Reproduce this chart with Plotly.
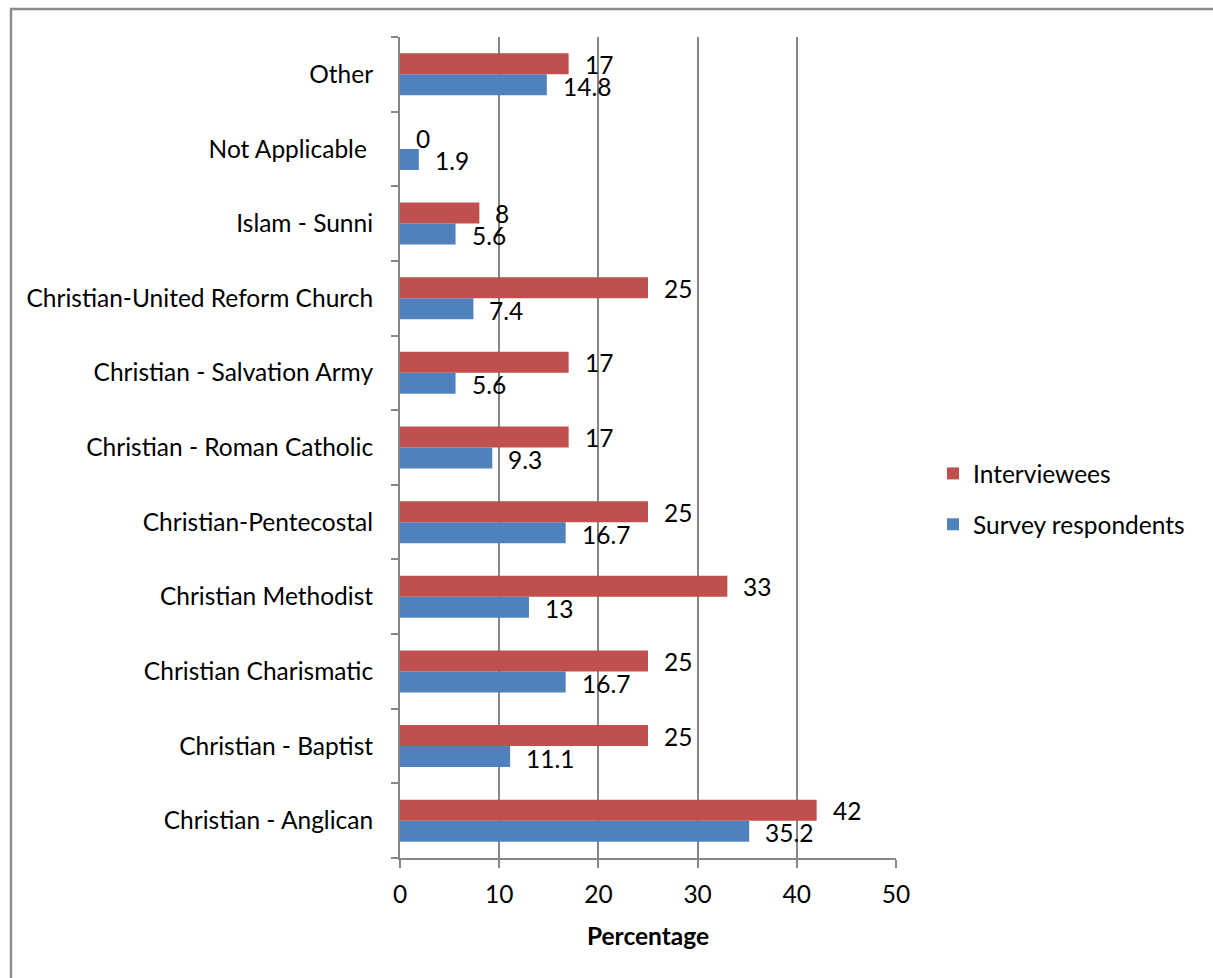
import plotly.graph_objects as go

categories = [
    "Christian - Anglican",
    "Christian - Baptist",
    "Christian Charismatic",
    "Christian Methodist",
    "Christian-Pentecostal",
    "Christian - Roman Catholic",
    "Christian - Salvation Army",
    "Christian-United Reform Church",
    "Islam - Sunni",
    "Not Applicable\u00a0",
    "Other",
]
survey_respondents = [35.2, 11.1, 16.7, 13, 16.7, 9.3, 5.6, 7.4, 5.6, 1.9, 14.8]
interviewees = [42, 25, 25, 33, 25, 17, 17, 25, 8, 0, 17]
x_ticks = [0, 10, 20, 30, 40, 50]

BLUE = "#4F81BD"
RED = "#C0504D"
GRAY = "#868686"
FONT = "Lato"
FS = 24.5

W, H = 1213, 978
L, R, T, B = 400, 317, 37, 120

fig = go.Figure()
fig.add_trace(go.Bar(
    y=categories, x=survey_respondents, orientation="h", name="Survey respondents",
    marker=dict(color=BLUE, line=dict(width=0)), legendgroup="s", legendrank=2,
))
fig.add_trace(go.Bar(
    y=categories, x=interviewees, orientation="h", name="Interviewees",
    marker=dict(color=RED, line=dict(width=0)), legendgroup="i", legendrank=1,
))

annotations = []
for cat, v in zip(categories, interviewees):
    annotations.append(dict(x=v, y=cat, xref="x", yref="y", text=f"{v:g}", showarrow=False,
                            xanchor="left", yanchor="middle", xshift=14, yshift=10,
                            font=dict(family=FONT, size=FS, color="black")))
for cat, v in zip(categories, survey_respondents):
    annotations.append(dict(x=v, y=cat, xref="x", yref="y", text=f"{v:g}", showarrow=False,
                            xanchor="left", yanchor="middle", xshift=14, yshift=-12,
                            font=dict(family=FONT, size=FS, color="black")))

pw = W - L - R
ph = H - T - B
def px_x(p):
    return (p - L) / pw
def px_y(p):
    return (H - B - p) / ph

shapes = [dict(type="rect", xref="paper", yref="paper",
               x0=px_x(11), x1=px_x(1230), y0=px_y(1000), y1=px_y(9),
               line=dict(color="#8C8C8C", width=2.5), fillcolor="rgba(0,0,0,0)", layer="below")]

fig.update_layout(
    width=W, height=H,
    margin=dict(l=L, r=R, t=T, b=B, pad=0),
    paper_bgcolor="white", plot_bgcolor="white",
    barmode="group", bargap=0.437, bargroupgap=0,
    font=dict(family=FONT, size=FS, color="black"),
    showlegend=True,
    legend=dict(x=px_x(933), y=px_y(451), xanchor="left", yanchor="top",
                traceorder="grouped", tracegroupgap=16,
                font=dict(family=FONT, size=FS, color="black"),
                bgcolor="rgba(0,0,0,0)"),
    xaxis=dict(range=[0, 50], tickvals=x_ticks, showgrid=True, gridcolor=GRAY, gridwidth=1.5,
               showline=True, linecolor=GRAY, linewidth=2, zeroline=False,
               ticks="outside", ticklen=8, tickcolor=GRAY, tickwidth=2,
               ticklabelstandoff=6,
               title=dict(text="<b>Percentage</b>", standoff=20,
                          font=dict(family=FONT, size=FS, color="black"))),
    yaxis=dict(type="category", categoryorder="array", categoryarray=categories,
               showgrid=False, showline=True, linecolor=GRAY, linewidth=2,
               ticks="outside", ticklen=7, tickcolor=GRAY, tickwidth=2,
               tickson="boundaries", ticklabelstandoff=20),
    annotations=annotations,
    shapes=shapes,
)

fig.write_html("out.html")
